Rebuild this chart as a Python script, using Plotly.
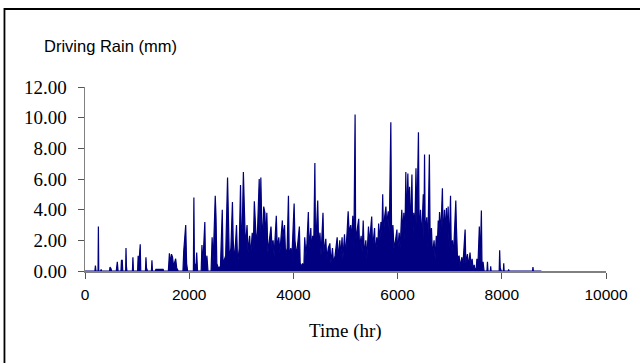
import plotly.graph_objects as go

# Hourly driving rain (mm): (hour, value) turning points
hours = [0,190,200,210,250,257,264,300,310,320,470,480,500,510,600,620,635,690,700,715,725,780,787,795,805,
         910,920,930,1010,1020,1030,1060,1070,1160,1170,1180,1200,1275,1285,1295,1350,1360,1500,1510,
         1600,1620,1640,1660,1680,1700,1740,1760,1790,1880,1895,1910,1933,1950,1970,2080,2090,2100,2130,2144,2160,
         2230,2245,2260,2300,2315,2340,2360,2420,2440,2460,2500,2515,2530,2560,2600,2635,2650,2700,2736,2750,2770,
         2800,2830,2845,2870,2908,2930,2960,2985,3000,3020,3040,3055,3080,3110,3130,3160,3180,3210,3230,3250,3270,
         3290,3310,3344,3360,3375,3390,3410,3430,3453,3470,3490,3510,3540,3570,3590,3610,3630,3672,3690,3720,3740,
         3788,3800,3830,3850,3880,3905,3920,3950,3970,4014,4030,4060,4090,4115,4130,4155,4175,4200,4217,4240,4260,
         4287,4300,4334,4350,4370,4390,4412,4425,4440,4467,4485,4510,4530,4568,4585,4622,4640,4670,4700,4720,4750,
         4770,4800,4840,4860,4890,4910,4934,4950,4981,5000,5030,5051,5070,5100,5120,5140,5160,5184,5195,5220,5254,
         5270,5300,5320,5340,5360,5390,5410,5441,5460,5480,5503,5520,5558,5575,5600,5620,5636,5660,5680,5700,5714,
         5730,5750,5776,5790,5820,5840,5870,5885,5910,5930,5960,5987,6000,6030,6050,6080,6100,6120,6140,6158,6170,
         6197,6210,6230,6250,6275,6290,6310,6330,6353,6370,6400,6415,6440,6460,6493,6505,6517,6530,6560,6580,6610,
         6625,6650,6670,6700,6720,6743,6760,6780,6790,6805,6830,6860,6875,6900,6915,6938,6955,6970,6990,7016,7030,
         7054,7070,7117,7130,7150,7180,7200,7234,7250,7296,7310,7340,7360,7390,7410,7430,7450,7470,7490,7510,7522,
         7540,7569,7585,7608,7620,7640,7660,7715,7725,7735,7780,7787,7795,7950,7959,7970,7990,8030,8037,8045,8125,
         8130,8140,8590,8598,8606,8760]
rain = [0,0,0.35,0,0,2.9,0,0,0.1,0,0,0.25,0.15,0,0,0.6,0,0,0.7,0.7,0,0,1.5,0.3,0,
        0,0.9,0,0,1.0,0.2,1.75,0,0,0.9,0.2,0,0,0.7,0,0,0.1,0.1,0,
        0,1.15,0.5,1.1,0.9,0.3,0.8,0.2,0,0,1.3,2.0,3.0,0.5,0,0,4.8,0.5,0.3,1.2,0,
        0,1.7,0.3,3.2,0.2,1.0,0,0,2.2,0.6,4.9,3.5,0.5,0.2,0.3,4.0,0.5,1.0,6.1,2.5,0.8,
        1.5,4.5,2.0,0.6,3.0,0.5,1.5,5.6,2.0,3.0,6.45,3.6,1.5,3.0,1.2,2.3,1.0,2.5,1.5,4.55,3.2,
        1.8,2.5,6.0,2.5,6.1,3.5,1.8,4.2,3.8,2.0,3.8,1.2,2.0,2.9,1.5,2.0,1.0,3.6,1.5,2.2,1.2,
        3.3,2.2,3.0,1.0,1.5,4.9,1.0,1.5,0.8,4.4,2.0,1.0,2.0,2.9,0.5,0.3,0.5,0.2,2.2,1.0,1.8,
        3.85,1.5,2.8,1.2,2.3,1.5,7.05,1.8,2.5,4.6,1.5,2.5,1.0,3.8,1.2,2.1,0.8,1.5,1.8,0.5,1.5,
        0.5,1.0,2.2,0.8,2.0,1.0,2.2,0.8,2.4,1.0,2.5,3.9,2.5,3.0,2.0,3.6,1.5,10.2,2.0,2.5,3.4,
        1.5,2.3,1.2,3.3,1.0,2.0,0.8,2.9,1.8,2.5,3.55,1.5,2.8,1.0,2.2,1.5,3.1,2.0,3.2,2.5,5.0,
        2.2,3.5,4.2,3.0,3.9,2.5,9.7,2.2,3.0,1.5,2.0,2.7,1.2,2.5,1.5,4.0,2.5,3.8,2.0,6.45,3.0,
        6.35,4.0,5.5,2.5,6.3,2.0,3.8,2.5,6.7,3.0,9.05,2.0,4.0,2.0,5.0,2.0,7.6,2.5,3.5,1.5,7.6,
        2.0,2.8,1.0,2.0,0.8,2.3,1.5,3.3,2.0,3.85,2.5,5.4,2.0,4.0,2.5,4.1,2.0,4.2,1.5,4.9,1.5,
        2.0,0.8,4.6,2.8,0.8,1.0,0.3,0.9,0.2,2.7,0.5,1.1,0.3,1.2,0.3,0.8,0.1,0.4,0,0.2,0.8,
        0.2,2.9,0.5,3.95,0.3,0.6,0,0,0.6,0,0,0.3,0,0,1.35,0.2,0,0,0.5,0,0,
        0.1,0,0,0.25,0,0]

x_ticks = [0, 2000, 4000, 6000, 8000, 10000]
y_ticks = [0, 2, 4, 6, 8, 10, 12]

W, H = 640, 363
ML, MR, MT, MB = 85, 31, 87, 92
PW, PH = W - ML - MR, H - MT - MB


def px(xpix):  # page pixel -> paper x
    return (xpix - ML) / PW


def py(ypix):  # page pixel -> paper y
    return (H - MB - ypix) / PH


fig = go.Figure()
fig.add_trace(go.Scatter(
    x=hours, y=rain, mode="lines",
    line=dict(color="#000080", width=1.2),
    fill="tozeroy", fillcolor="#000080",
    hoverinfo="skip", showlegend=False,
))

fig.update_layout(
    width=W, height=H,
    margin=dict(l=ML, r=MR, t=MT, b=MB),
    paper_bgcolor="white", plot_bgcolor="white",
    xaxis=dict(
        range=[0, 10000], tickvals=x_ticks, ticktext=[str(v) for v in x_ticks],
        showgrid=False, zeroline=False, showline=True, linecolor="#808080", linewidth=1.5,
        ticks="outside", ticklen=6, tickcolor="#555555", tickwidth=1,
        ticklabelstandoff=3,
        tickfont=dict(family="Liberation Sans, Arial, sans-serif", size=15.5, color="black"),
        layer="below traces",
    ),
    yaxis=dict(
        range=[0, 12], tickvals=y_ticks, tickformat=".2f",
        showgrid=False, zeroline=False, showline=True, linecolor="#808080", linewidth=1.5,
        ticks="outside", ticklen=6, tickcolor="#555555", tickwidth=1,
        ticklabelstandoff=7,
        tickfont=dict(family="Liberation Serif, Times New Roman, serif", size=19, color="black"),
        layer="below traces",
    ),
    annotations=[
        dict(text="Driving Rain (mm)", xref="paper", yref="paper",
             x=px(42), y=py(46), xanchor="left", yanchor="middle",
             showarrow=False,
             font=dict(family="Liberation Sans, Arial, sans-serif", size=16.5, color="black")),
        dict(text="Time (hr)", xref="paper", yref="paper",
             x=px(347), y=py(331), xanchor="center", yanchor="middle",
             showarrow=False,
             font=dict(family="Liberation Serif, Times New Roman, serif", size=19, color="black")),
    ],
    shapes=[
        dict(type="rect", xref="paper", yref="paper",
             x0=px(4), x1=px(700), y0=py(420), y1=py(9),
             line=dict(color="black", width=1.8), fillcolor="rgba(0,0,0,0)", layer="below"),
    ],
)

fig.write_html("out.html", config={"displayModeBar": False, "staticPlot": True},
               post_script="document.body.style.margin='0';")
